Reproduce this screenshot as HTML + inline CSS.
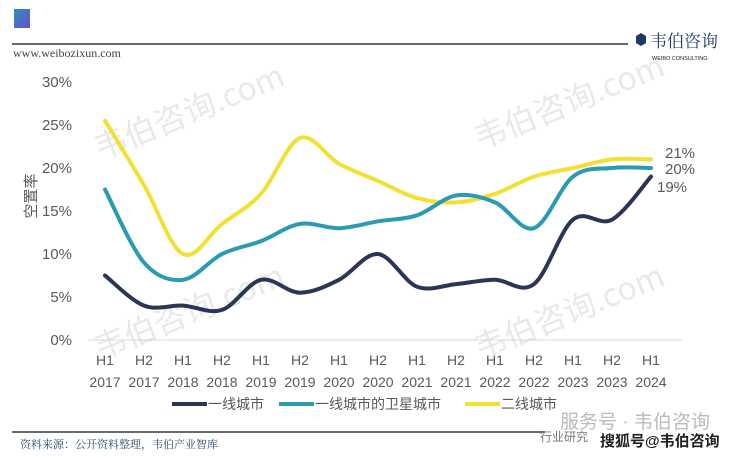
<!DOCTYPE html>
<html><head><meta charset="utf-8"><style>
body{margin:0;background:#fff;width:742px;height:455px;overflow:hidden;font-family:"Liberation Sans","Noto Sans CJK SC",sans-serif}
</style></head><body>
<svg id="s" width="742" height="455" xmlns="http://www.w3.org/2000/svg" font-family="Liberation Sans, Noto Sans CJK SC, sans-serif">
<defs><linearGradient id="g" x1="0" y1="0" x2="1" y2="1"><stop offset="0" stop-color="#2a8fc0"/><stop offset="1" stop-color="#6a4fc8"/></linearGradient></defs>
<rect x="14" y="9" width="16" height="19" fill="url(#g)"/>
<line x1="12" y1="44" x2="628" y2="44" stroke="#5f6f6f" stroke-width="2"/>
<text x="13" y="57" font-family="Liberation Serif, serif" font-size="12" fill="#444">www.weibozixun.com</text>
<polygon points="636,36 641,33 646,36 646,43 641,46 636,43" fill="#1e3a6a"/>
<text x="650" y="47" font-family="Noto Serif CJK SC, serif" font-size="17" fill="#1e3a6a">韦伯咨询</text>
<text x="652" y="60" font-size="5.5" fill="#222">WEIBO CONSULTING</text>
<g font-size="15" fill="#595959" text-anchor="end">
<text x="72" y="87">30%</text><text x="72" y="130">25%</text><text x="72" y="173">20%</text><text x="72" y="216">15%</text><text x="72" y="259">10%</text><text x="72" y="302">5%</text><text x="72" y="345">0%</text>
</g>
<text transform="translate(36,196) rotate(-90)" font-size="15" fill="#595959" text-anchor="middle">空置率</text>
<line x1="88" y1="340" x2="682" y2="340" stroke="#d9d9d9" stroke-width="1"/>
<g id="xl" font-size="14" fill="#595959" text-anchor="middle"></g>
<g font-size="32" fill="#c8c8c8" opacity="0.4" font-family="Noto Sans CJK SC, sans-serif">
<text transform="translate(100,160) rotate(-22)">韦伯咨询.com</text>
<text transform="translate(480,150) rotate(-22)">韦伯咨询.com</text>
<text transform="translate(100,360) rotate(-22)">韦伯咨询.com</text>
<text transform="translate(480,360) rotate(-22)">韦伯咨询.com</text>
</g>
<g id="lines" fill="none" stroke-width="4" stroke-linecap="round"></g>
<g font-size="15" fill="#595959">
<text x="665" y="158">21%</text><text x="665" y="174">20%</text><text x="657" y="192">19%</text>
</g>
<g font-size="14" fill="#595959">
<line x1="172" y1="404" x2="207" y2="404" stroke="#2b3556" stroke-width="4"/><text x="208" y="409">一线城市</text>
<line x1="279" y1="404" x2="314" y2="404" stroke="#2a9bb0" stroke-width="4"/><text x="315" y="409">一线城市的卫星城市</text>
<line x1="465" y1="404" x2="500" y2="404" stroke="#f2e032" stroke-width="4"/><text x="501" y="409">二线城市</text>
</g>
<line x1="12" y1="432" x2="545" y2="432" stroke="#5f6f6f" stroke-width="2"/>
<text x="20" y="448" font-family="Noto Serif CJK SC, serif" font-size="11" fill="#2a4a6a">资料来源：公开资料整理，韦伯产业智库</text>
<text x="560" y="428" font-size="19" fill="#bbb">服务号 · 韦伯咨询</text>
<text x="540" y="441" font-size="12" fill="#777">行业研究</text>
<text x="600" y="446" font-size="15" font-weight="bold" fill="#222">搜狐号@韦伯咨询</text>
</svg>
<script>
var X=i=>105+i*39, Y=v=>340-v*8.6;
var xl=document.getElementById('xl'),h='';
var yrs=[2017,2017,2018,2018,2019,2019,2020,2020,2021,2021,2022,2022,2023,2023,2024];
for(var i=0;i<15;i++){h+='<text x="'+X(i)+'" y="365">H'+(i%2+1)+'</text><text x="'+X(i)+'" y="387">'+yrs[i]+'</text>';}
xl.innerHTML=h;
var D=[["#f2e032",[25.5,18,10,13.5,17,23.5,20.5,18.5,16.5,16,17,19,20,21,21]],
["#2a9bb0",[17.5,9,7,10,11.5,13.5,13,13.8,14.5,16.8,16,13,19,20,20]],
["#2b3556",[7.5,4,4,3.5,7,5.5,7,10,6.2,6.5,7,6.5,14,14,19]]];
var g='';
D.forEach(function(s){var p=s[1].map((v,i)=>[X(i),Y(v)]);var d='M'+p[0];
for(var i=0;i<p.length-1;i++){var a=p[Math.max(i-1,0)],b=p[i],c=p[i+1],e=p[Math.min(i+2,p.length-1)];
d+=' C'+(b[0]+(c[0]-a[0])/6)+','+(b[1]+(c[1]-a[1])/6)+' '+(c[0]-(e[0]-b[0])/6)+','+(c[1]-(e[1]-b[1])/6)+' '+c;}
g+='<path d="'+d+'" stroke="'+s[0]+'"/>';});
document.getElementById('lines').innerHTML=g;
</script>
</body></html>
